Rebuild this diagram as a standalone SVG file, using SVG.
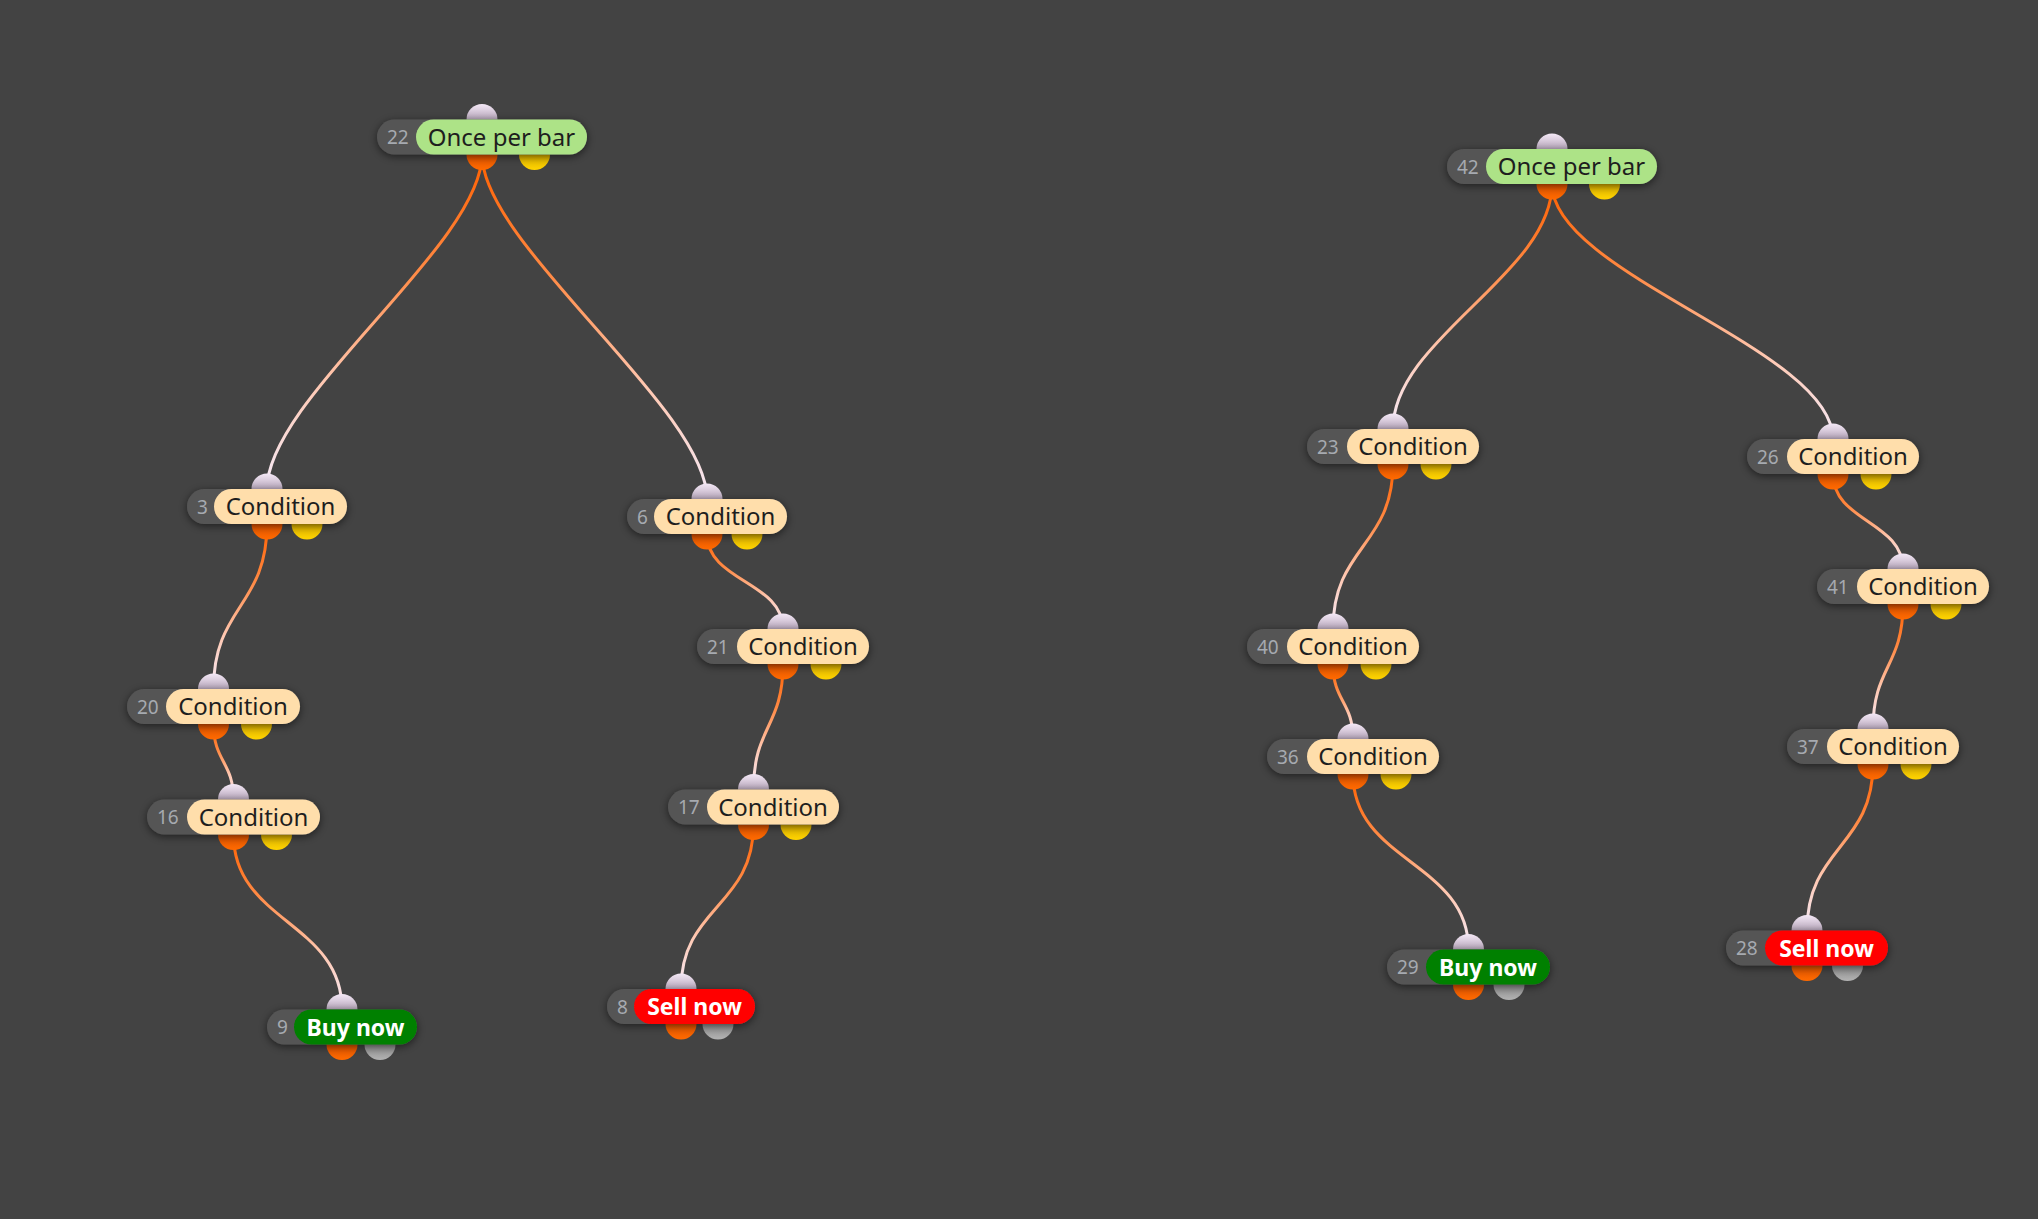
<svg xmlns="http://www.w3.org/2000/svg" width="2038" height="1219" viewBox="0 0 2038 1219">
<defs>
<linearGradient id="edgeGrad" x1="0" y1="0" x2="0" y2="1">
<stop offset="0" stop-color="#ff6000"/>
<stop offset="0.35" stop-color="#ff8a45"/>
<stop offset="0.68" stop-color="#ffc8b2"/>
<stop offset="1" stop-color="#f4eaf8"/>
</linearGradient>
<linearGradient id="inG" x1="0" y1="0" x2="0" y2="1">
<stop offset="0" stop-color="#f4e8f6"/>
<stop offset="0.5" stop-color="#b8a8bc"/>
<stop offset="1" stop-color="#8c7c90"/>
</linearGradient>
<linearGradient id="orG" x1="0" y1="0" x2="0" y2="1">
<stop offset="0" stop-color="#b84400"/>
<stop offset="0.5" stop-color="#e25400"/>
<stop offset="1" stop-color="#ff6a00"/>
</linearGradient>
<linearGradient id="yeG" x1="0" y1="0" x2="0" y2="1">
<stop offset="0" stop-color="#a88000"/>
<stop offset="0.5" stop-color="#ddb000"/>
<stop offset="1" stop-color="#ffd400"/>
</linearGradient>
<linearGradient id="grG" x1="0" y1="0" x2="0" y2="1">
<stop offset="0" stop-color="#6c6c6c"/>
<stop offset="0.5" stop-color="#8e8e8e"/>
<stop offset="1" stop-color="#b2b2b2"/>
</linearGradient>
<filter id="sh" x="-20%" y="-60%" width="140%" height="220%">
<feDropShadow dx="0" dy="2" stdDeviation="4" flood-color="#000" flood-opacity="0.55"/>
</filter>
</defs>
<style>
.edge{fill:none;stroke:url(#edgeGrad);stroke-width:3;stroke-linecap:round}
.pin{fill:url(#inG)}
.po{fill:url(#orG)}
.py{fill:url(#yeG)}
.pg{fill:url(#grG)}
.dk{fill:#555555}
.pills{filter:url(#sh)}
.cond{fill:#ffdeab}
.once{fill:#ade387}
.buy{fill:#008000}
.sell{fill:#ff0000}
.num{font-family:"Noto Sans","Open Sans","DejaVu Sans",sans-serif;font-size:19px;fill:#a6aab0}
.lbl{font-family:"Noto Sans","Open Sans","DejaVu Sans",sans-serif;font-size:24px;fill:#1e1e1e;text-anchor:middle}
.act{font-family:"Noto Sans","Open Sans","DejaVu Sans",sans-serif;font-size:23px;font-weight:bold;fill:#ffffff;text-anchor:middle}
</style>
<rect x="0" y="0" width="2038" height="1219" fill="#434343"/>

<g id="connectors">
<path class="edge" d="M482,154.5 C482,244.5 267,399 267,489"/>
<path class="edge" d="M482,154.5 C482,244.5 707,409 707,499"/>
<path class="edge" d="M267,524 C267,606.5 213.5,606.5 213.5,689"/>
<path class="edge" d="M213.5,724 C213.5,761.75 233.5,761.75 233.5,799.5"/>
<path class="edge" d="M233.5,834.5 C233.5,922 342,922 342,1009.5"/>
<path class="edge" d="M707,534 C707,581.5 783,581.5 783,629"/>
<path class="edge" d="M783,664 C783,726.75 753.5,726.75 753.5,789.5"/>
<path class="edge" d="M753.5,824.5 C753.5,906.75 681,906.75 681,989"/>
<path class="edge" d="M1552,184 C1552,274 1393,339 1393,429"/>
<path class="edge" d="M1552,184 C1552,274 1833,349 1833,439"/>
<path class="edge" d="M1393,464 C1393,546.5 1333,546.5 1333,629"/>
<path class="edge" d="M1333,664 C1333,701.5 1353,701.5 1353,739"/>
<path class="edge" d="M1353,774 C1353,862 1468.5,862 1468.5,949.5"/>
<path class="edge" d="M1833,474 C1833,521.5 1903,521.5 1903,569"/>
<path class="edge" d="M1903,604 C1903,666.5 1873,666.5 1873,729"/>
<path class="edge" d="M1873,764 C1873,847 1807,847 1807,930.5"/>
</g>

<g id="node22">
<circle class="pin" cx="482" cy="119.5" r="15.5"/>
<circle class="po" cx="482" cy="154.5" r="15.5"/>
<circle class="py" cx="534.5" cy="154.5" r="15.5"/>
<g class="pills"><rect class="dk" x="377" y="119.5" width="210" height="35" rx="17.5"/><rect class="once" x="416" y="119.5" width="171" height="35" rx="17.5"/></g>
<text class="num" x="387" y="144">22</text>
<text class="lbl" x="501.5" y="145.5">Once per bar</text>
</g>

<g id="node3">
<circle class="pin" cx="267" cy="489" r="15.5"/>
<circle class="po" cx="267" cy="524" r="15.5"/>
<circle class="py" cx="307" cy="524" r="15.5"/>
<g class="pills"><rect class="dk" x="187" y="489" width="160" height="35" rx="17.5"/><rect class="cond" x="214" y="489" width="133" height="35" rx="17.5"/></g>
<text class="num" x="197" y="513.5">3</text>
<text class="lbl" x="280.5" y="515">Condition</text>
</g>

<g id="node6">
<circle class="pin" cx="707" cy="499" r="15.5"/>
<circle class="po" cx="707" cy="534" r="15.5"/>
<circle class="py" cx="747" cy="534" r="15.5"/>
<g class="pills"><rect class="dk" x="627" y="499" width="160" height="35" rx="17.5"/><rect class="cond" x="654" y="499" width="133" height="35" rx="17.5"/></g>
<text class="num" x="637" y="523.5">6</text>
<text class="lbl" x="720.5" y="525">Condition</text>
</g>

<g id="node21">
<circle class="pin" cx="783" cy="629" r="15.5"/>
<circle class="po" cx="783" cy="664" r="15.5"/>
<circle class="py" cx="826" cy="664" r="15.5"/>
<g class="pills"><rect class="dk" x="697" y="629" width="172" height="35" rx="17.5"/><rect class="cond" x="737" y="629" width="132" height="35" rx="17.5"/></g>
<text class="num" x="707" y="653.5">21</text>
<text class="lbl" x="803" y="655">Condition</text>
</g>

<g id="node17">
<circle class="pin" cx="753.5" cy="789.5" r="15.5"/>
<circle class="po" cx="753.5" cy="824.5" r="15.5"/>
<circle class="py" cx="796" cy="824.5" r="15.5"/>
<g class="pills"><rect class="dk" x="668" y="789.5" width="171" height="35" rx="17.5"/><rect class="cond" x="707" y="789.5" width="132" height="35" rx="17.5"/></g>
<text class="num" x="678" y="814">17</text>
<text class="lbl" x="773" y="815.5">Condition</text>
</g>

<g id="node20">
<circle class="pin" cx="213.5" cy="689" r="15.5"/>
<circle class="po" cx="213.5" cy="724" r="15.5"/>
<circle class="py" cx="256.5" cy="724" r="15.5"/>
<g class="pills"><rect class="dk" x="127" y="689" width="173" height="35" rx="17.5"/><rect class="cond" x="166" y="689" width="134" height="35" rx="17.5"/></g>
<text class="num" x="137" y="713.5">20</text>
<text class="lbl" x="233" y="715">Condition</text>
</g>

<g id="node16">
<circle class="pin" cx="233.5" cy="799.5" r="15.5"/>
<circle class="po" cx="233.5" cy="834.5" r="15.5"/>
<circle class="py" cx="276.5" cy="834.5" r="15.5"/>
<g class="pills"><rect class="dk" x="147" y="799.5" width="173" height="35" rx="17.5"/><rect class="cond" x="187" y="799.5" width="133" height="35" rx="17.5"/></g>
<text class="num" x="157" y="824">16</text>
<text class="lbl" x="253.5" y="825.5">Condition</text>
</g>

<g id="node9">
<circle class="pin" cx="342" cy="1009.5" r="15.5"/>
<circle class="po" cx="342" cy="1044.5" r="15.5"/>
<circle class="pg" cx="380" cy="1044.5" r="15.5"/>
<g class="pills"><rect class="dk" x="267" y="1009.5" width="150" height="35" rx="17.5"/><rect class="buy" x="294" y="1009.5" width="123" height="35" rx="17.5"/></g>
<text class="num" x="277" y="1034">9</text>
<text class="act" x="355.5" y="1035.5">Buy now</text>
</g>

<g id="node8">
<circle class="pin" cx="681" cy="989" r="15.5"/>
<circle class="po" cx="681" cy="1024" r="15.5"/>
<circle class="pg" cx="718" cy="1024" r="15.5"/>
<g class="pills"><rect class="dk" x="607" y="989" width="148" height="35" rx="17.5"/><rect class="sell" x="634" y="989" width="121" height="35" rx="17.5"/></g>
<text class="num" x="617" y="1013.5">8</text>
<text class="act" x="694.5" y="1015">Sell now</text>
</g>

<g id="node42">
<circle class="pin" cx="1552" cy="149" r="15.5"/>
<circle class="po" cx="1552" cy="184" r="15.5"/>
<circle class="py" cx="1604.5" cy="184" r="15.5"/>
<g class="pills"><rect class="dk" x="1447" y="149" width="210" height="35" rx="17.5"/><rect class="once" x="1486" y="149" width="171" height="35" rx="17.5"/></g>
<text class="num" x="1457" y="173.5">42</text>
<text class="lbl" x="1571.5" y="175">Once per bar</text>
</g>

<g id="node23">
<circle class="pin" cx="1393" cy="429" r="15.5"/>
<circle class="po" cx="1393" cy="464" r="15.5"/>
<circle class="py" cx="1436" cy="464" r="15.5"/>
<g class="pills"><rect class="dk" x="1307" y="429" width="172" height="35" rx="17.5"/><rect class="cond" x="1347" y="429" width="132" height="35" rx="17.5"/></g>
<text class="num" x="1317" y="453.5">23</text>
<text class="lbl" x="1413" y="455">Condition</text>
</g>

<g id="node40">
<circle class="pin" cx="1333" cy="629" r="15.5"/>
<circle class="po" cx="1333" cy="664" r="15.5"/>
<circle class="py" cx="1376" cy="664" r="15.5"/>
<g class="pills"><rect class="dk" x="1247" y="629" width="172" height="35" rx="17.5"/><rect class="cond" x="1287" y="629" width="132" height="35" rx="17.5"/></g>
<text class="num" x="1257" y="653.5">40</text>
<text class="lbl" x="1353" y="655">Condition</text>
</g>

<g id="node36">
<circle class="pin" cx="1353" cy="739" r="15.5"/>
<circle class="po" cx="1353" cy="774" r="15.5"/>
<circle class="py" cx="1396" cy="774" r="15.5"/>
<g class="pills"><rect class="dk" x="1267" y="739" width="172" height="35" rx="17.5"/><rect class="cond" x="1307" y="739" width="132" height="35" rx="17.5"/></g>
<text class="num" x="1277" y="763.5">36</text>
<text class="lbl" x="1373" y="765">Condition</text>
</g>

<g id="node26">
<circle class="pin" cx="1833" cy="439" r="15.5"/>
<circle class="po" cx="1833" cy="474" r="15.5"/>
<circle class="py" cx="1876" cy="474" r="15.5"/>
<g class="pills"><rect class="dk" x="1747" y="439" width="172" height="35" rx="17.5"/><rect class="cond" x="1787" y="439" width="132" height="35" rx="17.5"/></g>
<text class="num" x="1757" y="463.5">26</text>
<text class="lbl" x="1853" y="465">Condition</text>
</g>

<g id="node41">
<circle class="pin" cx="1903" cy="569" r="15.5"/>
<circle class="po" cx="1903" cy="604" r="15.5"/>
<circle class="py" cx="1946" cy="604" r="15.5"/>
<g class="pills"><rect class="dk" x="1817" y="569" width="172" height="35" rx="17.5"/><rect class="cond" x="1857" y="569" width="132" height="35" rx="17.5"/></g>
<text class="num" x="1827" y="593.5">41</text>
<text class="lbl" x="1923" y="595">Condition</text>
</g>

<g id="node37">
<circle class="pin" cx="1873" cy="729" r="15.5"/>
<circle class="po" cx="1873" cy="764" r="15.5"/>
<circle class="py" cx="1916" cy="764" r="15.5"/>
<g class="pills"><rect class="dk" x="1787" y="729" width="172" height="35" rx="17.5"/><rect class="cond" x="1827" y="729" width="132" height="35" rx="17.5"/></g>
<text class="num" x="1797" y="753.5">37</text>
<text class="lbl" x="1893" y="755">Condition</text>
</g>

<g id="node29">
<circle class="pin" cx="1468.5" cy="949.5" r="15.5"/>
<circle class="po" cx="1468.5" cy="984.5" r="15.5"/>
<circle class="pg" cx="1509" cy="984.5" r="15.5"/>
<g class="pills"><rect class="dk" x="1387" y="949.5" width="163" height="35" rx="17.5"/><rect class="buy" x="1426" y="949.5" width="124" height="35" rx="17.5"/></g>
<text class="num" x="1397" y="974">29</text>
<text class="act" x="1488" y="975.5">Buy now</text>
</g>

<g id="node28">
<circle class="pin" cx="1807" cy="930.5" r="15.5"/>
<circle class="po" cx="1807" cy="965.5" r="15.5"/>
<circle class="pg" cx="1847.5" cy="965.5" r="15.5"/>
<g class="pills"><rect class="dk" x="1726" y="930.5" width="162" height="35" rx="17.5"/><rect class="sell" x="1765" y="930.5" width="123" height="35" rx="17.5"/></g>
<text class="num" x="1736" y="955">28</text>
<text class="act" x="1826.5" y="956.5">Sell now</text>
</g>
</svg>
